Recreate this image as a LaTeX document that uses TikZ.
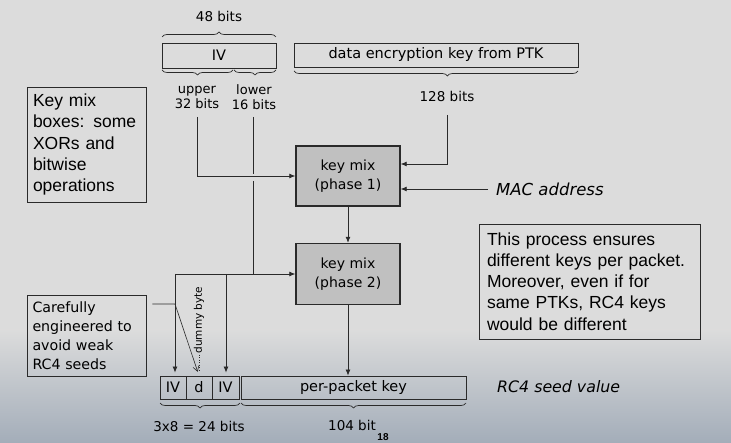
\documentclass[tikz,border=0pt]{standalone}
\usepackage{fontspec}
\setmainfont{DejaVu Sans}
\newfontfamily\arialf{Liberation Sans}
\usetikzlibrary{arrows.meta,decorations.pathreplacing}
\definecolor{bg}{HTML}{DCDCDC}
\definecolor{mixfill}{HTML}{C0C0C0}
\definecolor{ln}{HTML}{2A2A2A}
\definecolor{bottomc}{HTML}{A3ADB9}
\begin{document}
\begin{tikzpicture}[x=1pt,y=-1pt,
  cell/.style={draw=ln, line width=0.8pt, inner sep=0pt, font=\fontsize{14.5}{16}\selectfont},
  mixbox/.style={draw=ln, line width=1.4pt, fill=mixfill, inner sep=0pt, align=center,
    minimum width=104pt, minimum height=60pt, font=\fontsize{14}{19}\selectfont},
  note/.style={draw=ln, line width=0.8pt, align=left, anchor=center,
    font=\arialf\fontsize{17.5}{21.2}\selectfont},
  cnote/.style={draw=ln, line width=0.8pt, align=left, anchor=center,
    font=\fontsize{14.2}{19}\selectfont},
  lbl/.style={inner sep=0pt, align=center, font=\fontsize{13.5}{15}\selectfont},
  conn/.style={draw=ln, line width=0.8pt},
  arr/.style={conn, -{Latex[length=6pt,width=5pt]}},
  brc/.style={decorate, decoration={brace, amplitude=5pt}, line width=0.7pt, draw=ln},
  mbrc/.style={decorate, decoration={brace, amplitude=5pt, mirror}, line width=0.7pt, draw=ln},
]
\useasboundingbox (0,0) rectangle (731,443);
\fill[bg] (0,0) rectangle (731,443);
\shade[top color=bg, bottom color=bottomc] (0,330) rectangle (731,443);

% top boxes
\node[cell, minimum width=114pt, minimum height=25pt] (iv) at (219,55.5) {IV};
\node[cell, minimum width=284pt, minimum height=24pt] (dek) at (436,55) {data encryption key from PTK};

% braces and labels on top
\draw[brc] (162,37) -- (276,37);
\node[lbl] (b48) at (219,16) {48 bits};
\draw[mbrc] (162,70) -- (233,70);
\draw[mbrc] (234,70) -- (276,70);
\node[lbl, font=\fontsize{13}{15}\selectfont] (up) at (197,97.5) {upper\\32 bits};
\node[lbl, font=\fontsize{13}{15}\selectfont] (lo) at (254,97.5) {lower\\16 bits};
\draw[mbrc, decoration={aspect=0.54}] (294,71) -- (578,71);
\node[lbl] (b128) at (447,96) {128 bits};

% key mix boxes
\node[mixbox] (km1) at (348,176) {key mix\\(phase 1)};
\node[mixbox, minimum height=61pt] (km2) at (348,274) {key mix\\(phase 2)};

\node[anchor=west, inner sep=0pt, font=\itshape\fontsize{16.5}{18}\selectfont] (mac) at (496,189) {MAC address};

% notes
\node[note, minimum width=119pt, minimum height=115pt, text width=107pt, inner sep=6pt] (n1) at (86.5,144.5)
  {Key mix\\boxes: some\\XORs and\\bitwise\\operations};
\node[note, minimum width=221pt, minimum height=115pt, text width=205pt, inner sep=8pt] (n2) at (589.5,281.5)
  {This process ensures\\different keys per packet.\\Moreover, even if for\\same PTKs, RC4 keys\\would be different};
\node[cnote, minimum width=119pt, minimum height=81pt, text width=108pt, inner sep=5.5pt] (n3) at (86.5,335.5)
  {Carefully\\engineered to\\avoid weak\\RC4 seeds};

% bottom cells
\node[cell, minimum width=26pt, minimum height=23pt] (c1) at (173,387.5) {IV};
\node[cell, minimum width=26pt, minimum height=23pt] (c2) at (199,387.5) {d};
\node[cell, minimum width=27pt, minimum height=23pt] (c3) at (225.5,387.5) {IV};
\node[cell, minimum width=225pt, minimum height=23pt] (ppk) at (353.5,387.5) {per-packet key};
\node[anchor=west, inner sep=0pt, font=\itshape\fontsize{15.8}{18}\selectfont] (seed) at (497,387) {RC4 seed value};

\draw[mbrc] (160,403) -- (240,403);
\draw[mbrc] (241,403) -- (466,403);
\node[lbl] (b24) at (199,426) {3x8 = 24 bits};
\node[lbl] (b104) at (352,425) {104 bit};
\node[inner sep=0pt, font=\arialf\bfseries\fontsize{10}{12}\selectfont] (pg) at (383,437) {18};

\node[rotate=90, inner sep=1pt, font=\fontsize{10.5}{12}\selectfont] (dummy) at (199,320) {dummy byte};

% junction coordinates
\coordinate (upS) at (197,117);
\coordinate (loS) at (253,117);
\coordinate (loA) at (253,174);
\coordinate (loB) at (253,181);
\coordinate (j2) at (253,274);
\coordinate (jL) at (175,274);
\coordinate (jM) at (226,274);
\coordinate (dS) at (447,115);
\coordinate (p2) at (175,304);

% connectors
\draw[arr] (upS) |- (km1.west);
\draw[conn] (loS) -- (loA);
\draw[conn] (loB) -- (j2);
\draw[arr] (jL) -- (km2.west);
\draw[arr, shorten >=3pt] (jL) -- (jL |- c1.north);
\draw[arr, shorten >=3pt] (jM) -- (jM |- c3.north);
\draw[arr] (dS) |- ([yshift=12pt]km1.east);
\draw[arr, shorten <=8pt] (mac.west) -- (mac.west -| km1.east);
\draw[arr] (km1.south) -- (km2.south |- km2.north);
\draw[arr] (km2.south) -- (km2.south |- ppk.north);
\draw[draw=ln, line width=0.6pt, shorten <=6pt, shorten >=4pt, -{Straight Barb[length=5pt,width=6pt]}]
  (n3.east |- p2) -- (p2) -- (c2.north);
\draw[draw=ln, line width=0.5pt, dotted, shorten >=4pt] (dummy.west) -- (c2.north);
\end{tikzpicture}
\end{document}
